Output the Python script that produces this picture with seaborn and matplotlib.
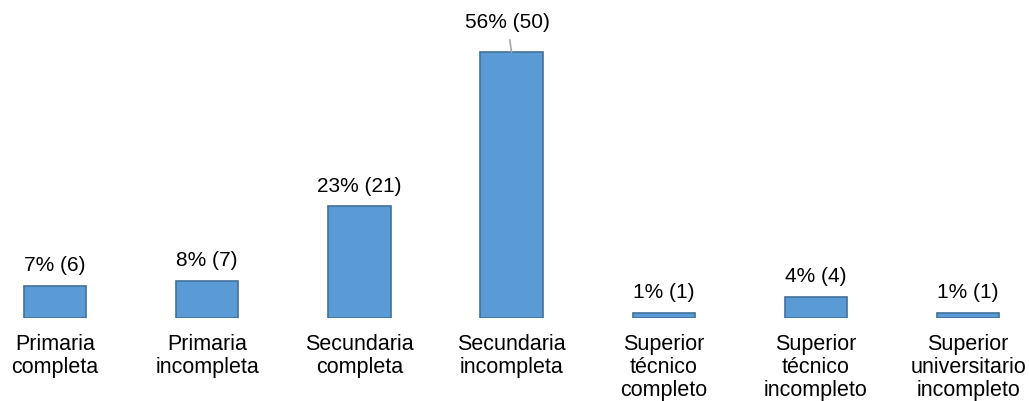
import matplotlib
matplotlib.use("Agg")
import matplotlib.pyplot as plt
import seaborn as sns
import pandas as pd

# Data
categories = ["Primaria\ncompleta", "Primaria\nincompleta", "Secundaria\ncompleta",
              "Secundaria\nincompleta", "Superior\ntécnico\ncompleto",
              "Superior\ntécnico\nincompleto", "Superior\nuniversitario\nincompleto"]
counts = [6, 7, 21, 50, 1, 4, 1]
percents = [7, 8, 23, 56, 1, 4, 1]

df = pd.DataFrame({"nivel": categories, "n": counts})

sns.set_theme(style="white")
plt.rcParams["font.family"] = ["Liberation Sans", "DejaVu Sans"]
plt.rcParams["text.color"] = "black"
plt.rcParams["xtick.color"] = "black"

fig = plt.figure(figsize=(10.29, 4.01), dpi=100)
ax = fig.add_axes([0, 0.207, 1, 0.793])

sns.barplot(data=df, x="nivel", y="n", color="#5B9BD5", saturation=1,
            width=0.41, edgecolor="#41719C", linewidth=1.2, ax=ax)

ax.set_xlim(-0.361, 6.40)
ax.set_ylim(0, 59.8)
ax.set_xlabel("")
ax.set_ylabel("")
ax.set_yticks([])
for s in ax.spines.values():
    s.set_visible(False)
ax.tick_params(axis="x", length=0, pad=11.5, labelcolor="black")
for lbl in ax.get_xticklabels():
    lbl.set_fontsize(15.5)
    lbl.set_linespacing(1.12)
    lbl.set_verticalalignment("top")

top = max(counts)
for i, (c, p) in enumerate(zip(counts, percents)):
    txt = f"{p}% ({c})"
    if c == top:
        ax.annotate(txt, xy=(i, c), xytext=(-3, 21), textcoords="offset points",
                    ha="center", va="center", fontsize=15, color="black",
                    arrowprops=dict(arrowstyle="-", color="#A6A6A6", lw=1.2,
                                    shrinkA=3, shrinkB=0))
    else:
        ax.annotate(txt, xy=(i, c), xytext=(0, 14.5), textcoords="offset points",
                    ha="center", va="center", fontsize=15, color="black")

fig.savefig("out.png", dpi=100)
